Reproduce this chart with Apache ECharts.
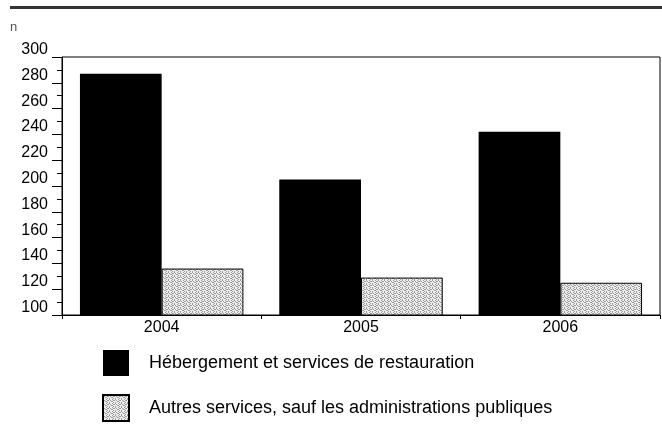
<!DOCTYPE html>
<html>
<head>
<meta charset="utf-8">
<script src="https://cdn.jsdelivr.net/npm/echarts@6/dist/echarts.min.js"></script>
<style>
html,body{margin:0;padding:0;background:#fff;}
#c{width:662px;height:429px;}
</style>
</head>
<body>
<div id="c"></div>
<script>
const categories = ['2004', '2005', '2006'];
const hebergement = [287, 205, 242];
const autresServices = [136, 129, 125];
const seriesNames = ['Hébergement et services de restauration', 'Autres services, sauf les administrations publiques'];
const yMin = 100, yMax = 300, yStep = 20;

function makePattern() {
  const c = document.createElement('canvas');
  c.width = 6; c.height = 4;
  const ctx = c.getContext('2d');
  ctx.fillStyle = '#f0f0f0';
  ctx.fillRect(0, 0, 6, 4);
  ctx.fillStyle = '#999999';
  const dots = [[0,0],[3,0],[1,1],[4,1],[5,1],[2,2],[3,2],[0,3],[4,3]];
  dots.forEach(d => ctx.fillRect(d[0], d[1], 1, 1));
  return c;
}

const chart = echarts.init(document.getElementById('c'), null, {renderer: 'canvas'});
const font = '"Liberation Sans", Arial, Helvetica, sans-serif';
chart.setOption({
  animation: false,
  textStyle: {fontFamily: font},
  graphic: [
    {type: 'rect', left: 10, top: 6, shape: {width: 652, height: 3}, style: {fill: '#333333'}},
    {type: 'text', left: 10, top: 21, style: {text: 'n', fill: '#555', font: '13px ' + font}}
  ],
  grid: {left: 62, right: 2, top: 57, bottom: 114, show: true, borderColor: '#000', borderWidth: 1, backgroundColor: 'transparent'},
  legend: {
    orient: 'vertical', left: 102, top: 350, padding: 0,
    itemWidth: 26, itemHeight: 26, itemGap: 18,
    icon: 'rect',
    data: seriesNames,
    textStyle: {fontSize: 18, color: '#000', fontFamily: font, padding: [0, 0, 0, 15]}
  },
  xAxis: {
    type: 'category', data: categories,
    axisLine: {lineStyle: {color: '#000', width: 1}},
    axisTick: {show: true, length: 4, lineStyle: {color: '#000'}},
    axisLabel: {color: '#000', fontSize: 16, margin: 5, fontFamily: font}
  },
  yAxis: {
    type: 'value', min: yMin, max: yMax, interval: yStep,
    splitLine: {show: false},
    axisLine: {show: true, lineStyle: {color: '#000', width: 1}},
    axisTick: {show: true, length: 10, lineStyle: {color: '#000'}},
    minorTick: {show: true, splitNumber: 2, length: 5, lineStyle: {color: '#000'}},
    axisLabel: {color: '#000', fontSize: 16, margin: 14, verticalAlign: 'bottom', lineHeight: 15, fontFamily: font}
  },
  series: [
    {
      name: seriesNames[0], type: 'bar', data: hebergement,
      barGap: '0%', barCategoryGap: '18%',
      itemStyle: {color: '#000'}
    },
    {
      name: seriesNames[1], type: 'bar', data: autresServices,
      barGap: '0%', barCategoryGap: '18%',
      itemStyle: {color: {image: makePattern(), repeat: 'repeat'}, borderColor: '#000', borderWidth: 1}
    }
  ]
});
</script>
</body>
</html>
